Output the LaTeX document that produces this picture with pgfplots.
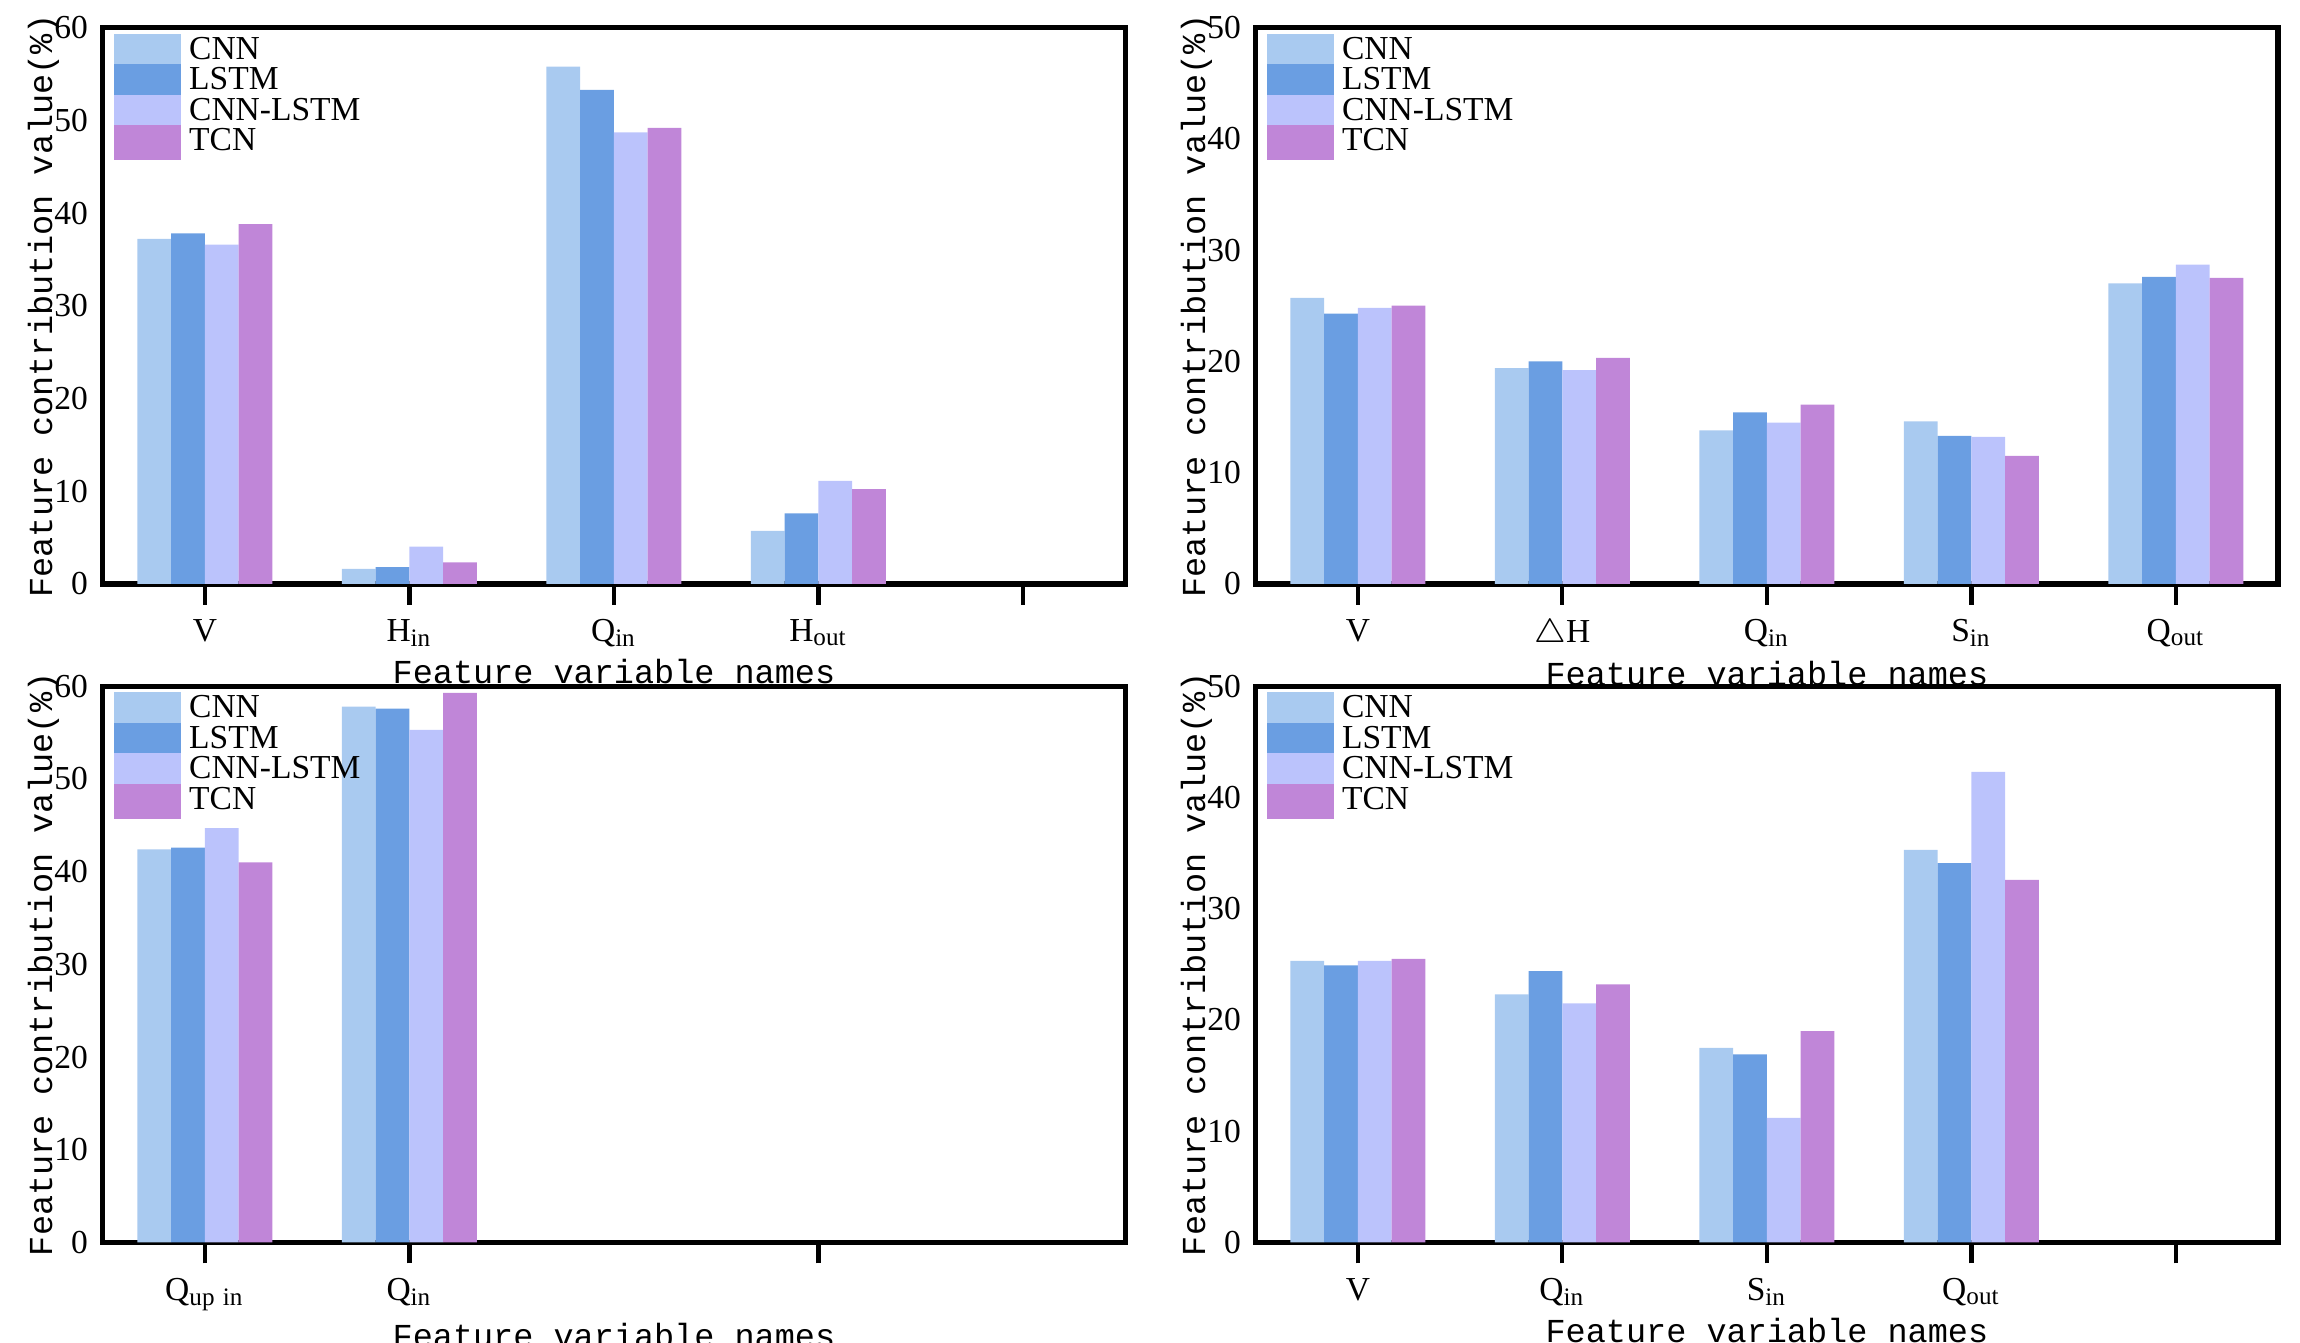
\documentclass[border=0pt]{standalone}
\usepackage{pgfplots}
\pgfplotsset{compat=1.18}
\usepackage{fontspec}
\setmainfont{Liberation Serif}
\newfontfamily\monof{Liberation Mono}
\definecolor{cA}{HTML}{A9CAF0}
\definecolor{cB}{HTML}{6A9EE2}
\definecolor{cC}{HTML}{BBC3FC}
\definecolor{cD}{HTML}{C086D8}
\pgfplotsset{
  myax/.style={
    scale only axis, width=244pt, height=132.7pt,
    ybar=0pt, bar width=0.165,
    xmin=-0.5, xmax=4.5, ymin=0,
    axis line style={line width=1.3pt},
    xtick style={line width=1pt, black},
    major tick length=5pt,
    xtick pos=bottom, ytick pos=left,
    ytick style={draw=none},
    tick label style={font=\fontsize{8}{9}\selectfont},
    /pgf/number format/assume math mode=true,
    xlabel={\monof\fontsize{8}{9}\selectfont Feature variable names},
    ylabel={\monof\fontsize{8}{9}\selectfont Feature contribution value(\%)},
    xlabel style={yshift=4pt},
    ylabel style={yshift=-8pt},
    legend style={draw=none, fill=none, at={(0.01,1.0)}, anchor=north west,
      font=\fontsize{8}{9}\selectfont, row sep=-3.5pt, inner sep=0pt},
    legend cell align=left,
    legend image code/.code={\fill[#1] (0pt,-4.2pt) rectangle (16pt,4.2pt);},
    every axis plot/.append style={draw=none},
  }
}
\newcommand{\mylg}{\legend{CNN,LSTM,CNN-LSTM,TCN}}
\begin{document}
\begin{tikzpicture}
\useasboundingbox (-24.5pt,-180.95pt) rectangle (524.3pt,139.3pt);
% (a)
\begin{axis}[myax, at={(0pt,0pt)}, ymax=60, ytick={0,10,...,60},
  xtick={0,1,2,3,4}, xticklabels={V,H$_{\mathrm{in}}$,Q$_{\mathrm{in}}$,H$_{\mathrm{out}}$,{}}]
\addplot[fill=cA] coordinates {(0,37.2)(1,1.6)(2,55.8)(3,5.7)};
\addplot[fill=cB] coordinates {(0,37.8)(1,1.8)(2,53.3)(3,7.6)};
\addplot[fill=cC] coordinates {(0,36.6)(1,4.0)(2,48.7)(3,11.1)};
\addplot[fill=cD] coordinates {(0,38.8)(1,2.3)(2,49.2)(3,10.2)};
\mylg
\node[font=\fontsize{10}{11}\selectfont, anchor=center] at (rel axis cs:-0.064,0.925) {(a)};
\end{axis}
% (b)
\begin{axis}[myax, at={(275.1pt,0pt)}, ymax=50, ytick={0,10,...,50},
  xtick={0,1,2,3,4}, xticklabels={V,$\triangle$H,Q$_{\mathrm{in}}$,S$_{\mathrm{in}}$,Q$_{\mathrm{out}}$}]
\addplot[fill=cA] coordinates {(0,25.7)(1,19.4)(2,13.8)(3,14.6)(4,27.0)};
\addplot[fill=cB] coordinates {(0,24.3)(1,20.0)(2,15.4)(3,13.3)(4,27.6)};
\addplot[fill=cC] coordinates {(0,24.8)(1,19.2)(2,14.5)(3,13.2)(4,28.7)};
\addplot[fill=cD] coordinates {(0,25.0)(1,20.3)(2,16.1)(3,11.5)(4,27.5)};
\mylg
\node[font=\fontsize{10}{11}\selectfont, anchor=center] at (rel axis cs:-0.064,0.925) {(b)};
\end{axis}
% (c)
\begin{axis}[myax, at={(0pt,-157.15pt)}, ymax=60, ytick={0,10,...,60},
  xtick={0,1,3}, xticklabels={Q$_{\mathrm{up\ in}}$,Q$_{\mathrm{in}}$,{}}]
\addplot[fill=cA] coordinates {(0,42.4)(1,57.8)};
\addplot[fill=cB] coordinates {(0,42.6)(1,57.6)};
\addplot[fill=cC] coordinates {(0,44.7)(1,55.3)};
\addplot[fill=cD] coordinates {(0,41.0)(1,59.3)};
\mylg
\node[font=\fontsize{10}{11}\selectfont, anchor=center] at (rel axis cs:-0.064,0.925) {(c)};
\end{axis}
% (d)
\begin{axis}[myax, at={(275.1pt,-157.15pt)}, ymax=50, ytick={0,10,...,50},
  xtick={0,1,2,3,4}, xticklabels={V,Q$_{\mathrm{in}}$,S$_{\mathrm{in}}$,Q$_{\mathrm{out}}$,{}}]
\addplot[fill=cA] coordinates {(0,25.3)(1,22.3)(2,17.5)(3,35.3)};
\addplot[fill=cB] coordinates {(0,24.9)(1,24.4)(2,16.9)(3,34.1)};
\addplot[fill=cC] coordinates {(0,25.3)(1,21.5)(2,11.2)(3,42.3)};
\addplot[fill=cD] coordinates {(0,25.5)(1,23.2)(2,19.0)(3,32.6)};
\mylg
\node[font=\fontsize{10}{11}\selectfont, anchor=center] at (rel axis cs:-0.064,0.925) {(d)};
\end{axis}
\end{tikzpicture}
\end{document}
